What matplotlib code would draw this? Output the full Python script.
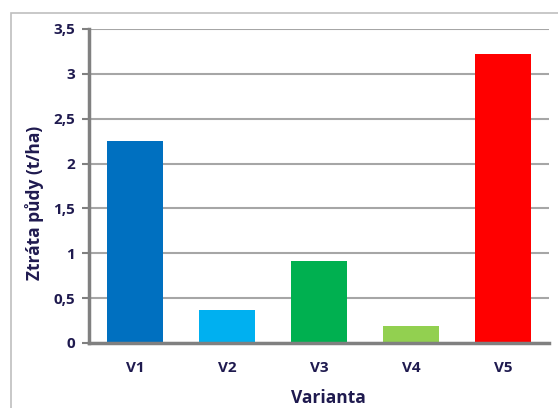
import matplotlib.pyplot as plt
from matplotlib.patches import Rectangle

categories = ['V1', 'V2', 'V3', 'V4', 'V5']
values = [2.25, 0.37, 0.91, 0.19, 3.22]
colors = ['#0070C0', '#00B0F0', '#00B050', '#92D050', '#FF0000']
yticks = [0, 0.5, 1, 1.5, 2, 2.5, 3, 3.5]
ytick_labels = ['0', '0,5', '1', '1,5', '2', '2,5', '3', '3,5']

text_color = '#1F1A4F'
plt.rcParams['font.family'] = ['Open Sans', 'DejaVu Sans']

fig = plt.figure(figsize=(5.58, 4.08), dpi=100)
W, H = 558, 408
ax = fig.add_axes([89 / W, 1 - 343 / H, (549 - 89) / W, (343 - 29) / H])

# outer chart frame (runs off right/bottom edge)
fig.patches.append(Rectangle((11 / W, -0.1), 1.2, 1 - 13 / H + 0.1,
                             transform=fig.transFigure, fill=False,
                             edgecolor='#BFBFBF', linewidth=1.2))

x = range(len(categories))
ax.bar(x, values, width=0.6, color=colors, zorder=3)

ax.set_xlim(-0.5, len(categories) - 0.5)
ax.set_ylim(0, 3.5)
ax.set_yticks(yticks)
ax.set_yticklabels(ytick_labels)
ax.set_xticks(list(x))
ax.set_xticklabels(categories)

ax.grid(axis='y', color='#A6A6A6', linewidth=1.5, zorder=0)
for s in ['top', 'right']:
    ax.spines[s].set_visible(False)
for s in ['left', 'bottom']:
    ax.spines[s].set_color('#808080')
    ax.spines[s].set_linewidth(2.5)
    ax.spines[s].set_zorder(4)

ax.tick_params(axis='y', length=5, width=1.5, color='#808080', pad=5,
               labelsize=11, labelcolor=text_color)
ax.tick_params(axis='x', length=0, pad=13, labelsize=11, labelcolor=text_color)
for lbl in ax.get_xticklabels() + ax.get_yticklabels():
    lbl.set_fontweight('bold')

ax.set_ylabel('Ztráta půdy (t/ha)', fontsize=12.5, fontweight='bold',
              color=text_color)
ax.set_xlabel('Varianta', fontsize=12.5, fontweight='bold', color=text_color)
ax.yaxis.set_label_coords(-0.097, 0.446)
ax.xaxis.set_label_coords(0.52, -0.145)

fig.savefig('out.png', dpi=100)
